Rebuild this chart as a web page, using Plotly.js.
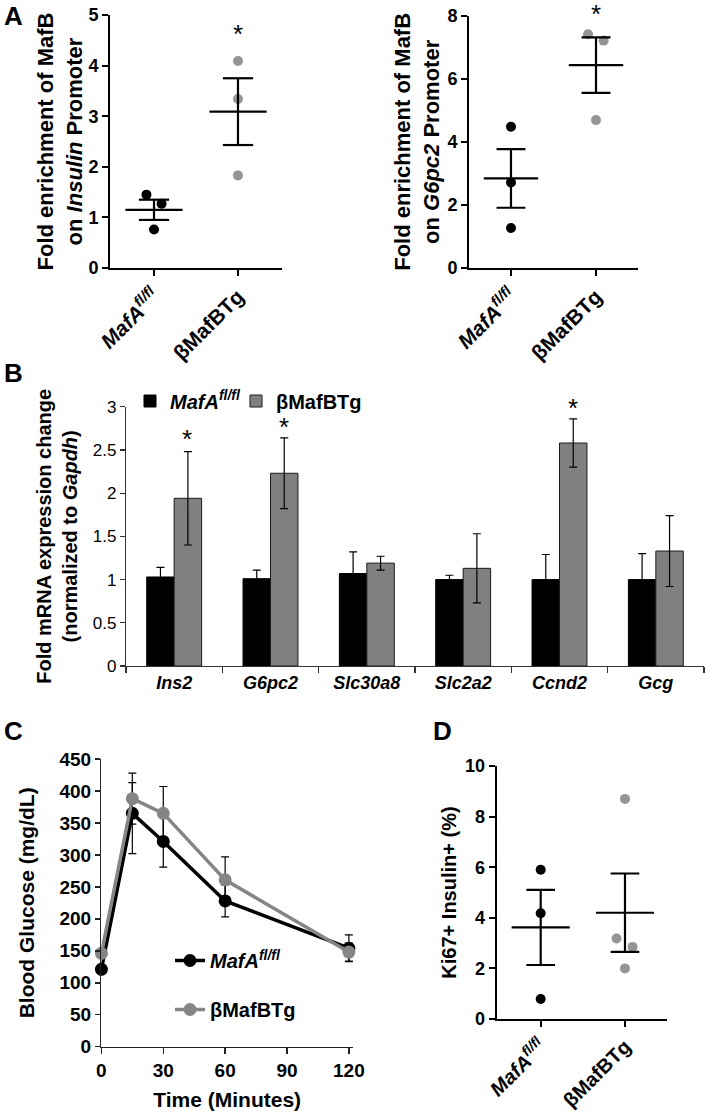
<!DOCTYPE html>
<html><head><meta charset="utf-8">
<script src="https://cdn.plot.ly/plotly-3.0.1.min.js"></script>
<style>html,body{margin:0;padding:0;background:#fff}#chart{width:705px;height:1113px}</style>
</head><body><div id="chart"></div>
<script>
// ---------- DATA ----------
const groupLabels = ['<i>MafA</i><sup><i>fl/fl</i></sup>', 'βMafBTg'];
const seriesNames = ['<i>MafA</i><sup><i>fl/fl</i></sup>', 'βMafBTg'];

// Panel A left: MafB on Insulin promoter
const insMafA = [1.45, 1.27, 0.76];
const insMafAJitter = [-0.09, 0.09, 0];
const insTg = [4.09, 3.34, 1.83];
const insTgJitter = [0, 0, 0];
const insMean = [1.15, 3.09];
const insSem = [0.2, 0.66];
const insStar = 4.74;
const insMax = 5;

// Panel A right: MafB on G6pc2 promoter
const g6MafA = [4.48, 2.71, 1.27];
const g6MafAJitter = [0, 0, 0];
const g6Tg = [7.41, 7.21, 4.69];
const g6TgJitter = [-0.094, 0.09, 0];
const g6Mean = [2.84, 6.43];
const g6Sem = [0.93, 0.88];
const g6Star = 8.25;
const g6Max = 8;

// Panel B: mRNA fold change
const genes = ['Ins2', 'G6pc2', 'Slc30a8', 'Slc2a2', 'Ccnd2', 'Gcg'];
const mrnaMafA = [1.03, 1.01, 1.07, 1.00, 1.00, 1.00];
const mrnaMafAErr = [0.11, 0.10, 0.25, 0.05, 0.29, 0.30];
const mrnaTg = [1.94, 2.23, 1.19, 1.13, 2.58, 1.33];
const mrnaTgErr = [0.54, 0.41, 0.08, 0.40, 0.28, 0.41];
const mrnaStarGenes = ['Ins2', 'G6pc2', 'Ccnd2'];
const mrnaStarY = [2.69, 2.83, 3.06];
const mrnaMax = 3;

// Panel C: glucose tolerance
const timeMin = [0, 15, 30, 60, 120];
const gluMafA = [121, 365, 321, 228, 154];
const gluMafAErrUp = [0, 48, 40, 25, 21];
const gluMafAErrDown = [0, 63, 40, 25, 21];
const gluTg = [146, 388, 365, 261, 148];
const gluTgErr = [0, 40, 42, 36, 14];
const timeTicks = [0, 30, 60, 90, 120];
const gluMax = 450;

// Panel D: Ki67+ Insulin+
const kiMafA = [5.9, 4.18, 0.79];
const kiMafAJitter = [0, 0, 0];
const kiTg = [8.7, 3.18, 2.85, 2.0];
const kiTgJitter = [0, -0.1, 0.09, 0];
const kiMean = [3.62, 4.2];
const kiSem = [1.485, 1.55];
const kiMax = 10;

// ---------- STYLE ----------
const FONT = 'Liberation Sans, Arial, Helvetica, sans-serif';
const BLACK = '#000000';
const GRAY_DOT = '#959595';
const GRAY_BAR = '#808080';
const GRAY_LINE = '#858585';

function dots(vals, jit, idx, color, xa, ya) {
  return {type: 'scatter', mode: 'markers', x: vals.map((v, k) => idx + jit[k]), y: vals,
    xaxis: xa, yaxis: ya, marker: {color: color, size: 10}, showlegend: false, hoverinfo: 'skip', cliponaxis: false};
}
function meanSem(means, sems, xa, ya, hw, cw) {
  const x = [], y = [];
  means.forEach((m, i) => {
    const lo = m - sems[i], hi = m + sems[i];
    x.push(i - hw, i + hw, null, i, i, null, i - cw, i + cw, null, i - cw, i + cw, null);
    y.push(m, m, null, lo, hi, null, hi, hi, null, lo, lo, null);
  });
  return {type: 'scatter', mode: 'lines', x: x, y: y, xaxis: xa, yaxis: ya,
    line: {color: BLACK, width: 2.2}, showlegend: false, hoverinfo: 'skip', cliponaxis: false};
}

const traces = [
  dots(insMafA, insMafAJitter, 0, BLACK, 'x', 'y'),
  dots(insTg, insTgJitter, 1, GRAY_DOT, 'x', 'y'),
  meanSem(insMean, insSem, 'x', 'y', 0.34, 0.18),
  dots(g6MafA, g6MafAJitter, 0, BLACK, 'x2', 'y2'),
  dots(g6Tg, g6TgJitter, 1, GRAY_DOT, 'x2', 'y2'),
  meanSem(g6Mean, g6Sem, 'x2', 'y2', 0.32, 0.17),
  {type: 'bar', name: seriesNames[0], x: genes, y: mrnaMafA, xaxis: 'x3', yaxis: 'y3',
    marker: {color: BLACK, line: {color: BLACK, width: 1}},
    error_y: {type: 'data', array: mrnaMafAErr, color: BLACK, thickness: 1.2, width: 4},
    legend: 'legend', hoverinfo: 'skip'},
  {type: 'bar', name: seriesNames[1], x: genes, y: mrnaTg, xaxis: 'x3', yaxis: 'y3',
    marker: {color: GRAY_BAR, line: {color: '#1a1a1a', width: 1}},
    error_y: {type: 'data', array: mrnaTgErr, color: BLACK, thickness: 1.2, width: 4},
    legend: 'legend3', hoverinfo: 'skip'},
  {type: 'scatter', mode: 'lines+markers', name: seriesNames[0], x: timeMin, y: gluMafA,
    xaxis: 'x4', yaxis: 'y4', line: {color: BLACK, width: 3.5}, marker: {color: BLACK, size: 13},
    error_y: {type: 'data', symmetric: false, array: gluMafAErrUp, arrayminus: gluMafAErrDown, color: BLACK, thickness: 1.2, width: 4},
    legend: 'legend2', legendgroup: 'a', cliponaxis: false, hoverinfo: 'skip'},
  {type: 'scatter', mode: 'lines+markers', name: seriesNames[1], x: timeMin, y: gluTg,
    xaxis: 'x4', yaxis: 'y4', line: {color: GRAY_LINE, width: 3.5}, marker: {color: GRAY_LINE, size: 13},
    error_y: {type: 'data', array: gluTgErr, color: BLACK, thickness: 1.2, width: 4},
    legend: 'legend2', legendgroup: 'b', cliponaxis: false, hoverinfo: 'skip'},
  dots(kiMafA, kiMafAJitter, 0, BLACK, 'x5', 'y5'),
  dots(kiTg, kiTgJitter, 1, GRAY_DOT, 'x5', 'y5'),
  meanSem(kiMean, kiSem, 'x5', 'y5', 0.345, 0.17)
];

const axisBase = {showline: true, linecolor: BLACK, linewidth: 2, ticks: 'outside', tickcolor: BLACK,
  tickwidth: 2, ticklen: 6, showgrid: false, zeroline: false, fixedrange: true, automargin: false};
const boldTick = s => ({family: FONT, size: s, color: BLACK, weight: 'bold'});
const titleFont = s => ({family: FONT, size: s, color: BLACK, weight: 'bold'});

const px = v => v / 705, py = v => 1 - v / 1113;

const annotations = [
  {text: 'A', x: px(2), y: py(16)}, {text: 'B', x: px(2), y: py(373)},
  {text: 'C', x: px(2), y: py(731)}, {text: 'D', x: px(431), y: py(731)}
].map(a => Object.assign(a, {xref: 'paper', yref: 'paper', xanchor: 'left', yanchor: 'middle',
  showarrow: false, font: {family: FONT, size: 26, color: BLACK, weight: 'bold'}}));

// significance stars: y given in data units, placed through the axis domain (may exceed the axis top)
const star = (x, yVal, yMax, xa, ya) => ({text: '*', x: x, y: yVal / yMax, xref: xa, yref: ya + ' domain',
  showarrow: false, xanchor: 'center', yanchor: 'middle', yshift: -6,
  font: {family: FONT, size: 26, color: BLACK}});
annotations.push(star(1, insStar, insMax, 'x', 'y'));
annotations.push(star(1, g6Star, g6Max, 'x2', 'y2'));
mrnaStarGenes.forEach((g, i) => annotations.push(star(genes.indexOf(g) + 0.135, mrnaStarY[i], mrnaMax, 'x3', 'y3')));

const legendFont = {family: FONT, size: 20, color: BLACK, weight: 'bold'};
const layout = {
  width: 705, height: 1113, margin: {l: 0, r: 0, t: 0, b: 0},
  paper_bgcolor: '#ffffff', plot_bgcolor: '#ffffff',
  font: {family: FONT, color: BLACK},
  barmode: 'group', bargap: 0.43, bargroupgap: 0,
  showlegend: true,
  legend: {orientation: 'h', x: px(130), xanchor: 'left', y: py(401), yanchor: 'middle',
    font: legendFont, bgcolor: 'rgba(0,0,0,0)'},
  legend3: {orientation: 'h', x: px(236), xanchor: 'left', y: py(401), yanchor: 'middle',
    font: legendFont, bgcolor: 'rgba(0,0,0,0)'},
  legend2: {x: px(170), xanchor: 'left', y: py(941), yanchor: 'top', traceorder: 'grouped', tracegroupgap: 20,
    font: legendFont, bgcolor: 'rgba(0,0,0,0)'},
  xaxis: Object.assign({}, axisBase, {domain: [px(110), px(282)], range: [-0.524, 1.524], anchor: 'y',
    tickvals: [0, 1], ticktext: groupLabels, tickangle: -45, tickfont: boldTick(21)}),
  yaxis: Object.assign({}, axisBase, {domain: [py(268), py(15)], range: [0, insMax], dtick: 1, anchor: 'x',
    tickfont: boldTick(18), title: {text: 'Fold enrichment of MafB<br>on <i>Insulin</i> Promoter', font: titleFont(22), standoff: 0}}),
  xaxis2: Object.assign({}, axisBase, {domain: [px(469), px(638)], range: [-0.494, 1.494], anchor: 'y2',
    tickvals: [0, 1], ticktext: groupLabels, tickangle: -45, tickfont: boldTick(21)}),
  yaxis2: Object.assign({}, axisBase, {domain: [py(268), py(15.7)], range: [0, g6Max], dtick: 2, anchor: 'x2',
    tickfont: boldTick(18), title: {text: 'Fold enrichment of MafB<br>on <i>G6pc2</i> Promoter', font: titleFont(22), standoff: 2}}),
  xaxis3: Object.assign({}, axisBase, {domain: [px(126), px(704)], type: 'category', anchor: 'y3',
    linewidth: 1.2, linecolor: '#333', tickcolor: '#333', tickwidth: 1.2, ticklen: 6, tickson: 'boundaries',
    tickvals: genes, ticktext: genes.map(g => '<i>' + g + '</i>'), tickfont: boldTick(18)}),
  yaxis3: Object.assign({}, axisBase, {domain: [py(666), py(406.7)], range: [0, mrnaMax], dtick: 0.5, anchor: 'x3',
    linewidth: 1.2, linecolor: '#333', tickcolor: '#333', tickwidth: 1.2, ticklen: 5,
    tickfont: {family: FONT, size: 17, color: BLACK},
    title: {text: 'Fold mRNA expression change<br>(normalized to <i>Gapdh</i>)', font: titleFont(20), standoff: 9}}),
  xaxis4: Object.assign({}, axisBase, {domain: [px(101.4), px(353)], range: [0, 122], anchor: 'y4',
    linewidth: 1.5, linecolor: '#222', tickcolor: '#222', tickwidth: 1.5, ticklen: 6,
    tickvals: timeTicks, tickfont: boldTick(19), title: {text: 'Time (Minutes)', font: titleFont(21), standoff: 12}}),
  yaxis4: Object.assign({}, axisBase, {domain: [py(1046.7), py(759)], range: [0, gluMax], dtick: 50, anchor: 'x4',
    linewidth: 1.5, linecolor: '#222', tickcolor: '#222', tickwidth: 1.5, ticklen: 5,
    tickfont: boldTick(19), title: {text: 'Blood Glucose (mg/dL)', font: titleFont(21), standoff: 19}}),
  xaxis5: Object.assign({}, axisBase, {domain: [px(496.7), px(666.7)], range: [-0.522, 1.495], anchor: 'y5',
    tickvals: [0, 1], ticktext: groupLabels, tickangle: -45, tickfont: boldTick(20)}),
  yaxis5: Object.assign({}, axisBase, {domain: [py(1019), py(766)], range: [0, kiMax], dtick: 2, anchor: 'x5',
    tickfont: boldTick(18), title: {text: 'Ki67+ Insulin+ (%)', font: titleFont(20), standoff: 3}}),
  annotations: annotations
};

Plotly.newPlot('chart', traces, layout, {staticPlot: true, displayModeBar: false});
</script>
</body></html>
